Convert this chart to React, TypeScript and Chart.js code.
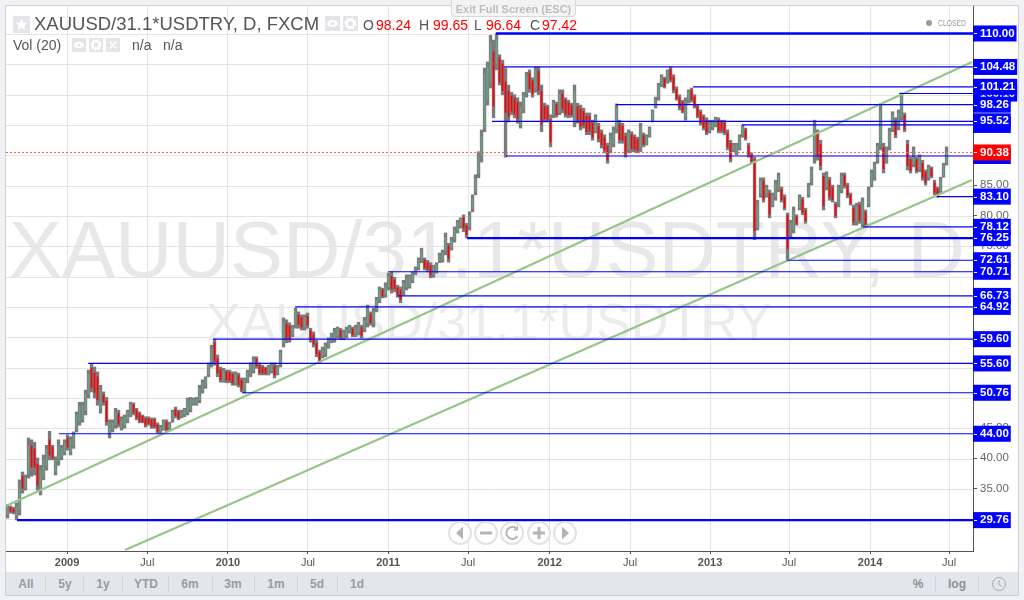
import React, { useEffect, useRef } from "react";
import { Chart, registerables } from "chart.js";

Chart.register(...registerables);

// Candles, one per ~6.8 days
const firstDate = 2008.6295;
const dateStep = 0.01868;

const highs = [
32.3,32.1,31.9,32.6,36.4,37.7,37.2,43.3,43.0,42.6,40.0,38.8,40.5,42.1,44.4,42.1,40.2,43.0,42.1,43.0,
43.8,43.5,44.3,47.6,49.2,49.2,51.2,54.5,55.6,55.0,54.2,52.0,50.9,50.0,46.3,46.3,48.2,47.9,46.8,47.1,
47.9,49.2,49.1,48.2,47.6,47.1,46.8,46.8,46.6,46.6,45.8,45.4,46.3,46.3,45.9,47.9,48.4,47.9,47.9,48.2,
49.9,50.0,49.9,50.0,52.0,52.9,53.4,55.7,58.6,59.6,57.0,55.0,54.8,54.5,54.5,54.2,54.2,54.0,53.2,53.2,
54.5,55.7,56.7,56.7,55.7,55.3,55.0,55.3,55.7,55.7,55.3,57.8,63.1,62.8,62.3,61.9,64.7,64.1,63.6,63.6,
63.9,61.4,60.8,59.4,57.8,58.3,59.0,59.8,60.6,61.4,61.6,61.4,61.1,61.6,61.9,61.6,61.9,62.4,61.9,63.2,
65.2,64.1,64.7,66.5,68.2,68.0,68.9,70.5,70.7,69.8,68.5,68.2,69.3,70.2,70.2,70.7,71.5,73.0,74.6,73.0,
72.6,72.2,71.8,72.2,73.8,74.3,77.1,75.4,76.4,78.1,79.2,79.6,80.1,78.7,80.6,83.4,86.7,90.5,94.1,104.3,
105.3,109.7,108.9,110.0,106.5,105.6,104.3,101.5,100.3,99.9,99.4,98.7,100.3,103.6,104.0,102.7,104.5,104.5,101.5,98.5,
98.2,96.6,99.0,98.7,100.7,100.7,99.4,99.0,98.5,101.5,98.5,98.2,97.7,96.9,96.9,95.7,96.6,95.2,94.1,93.3,
91.9,93.6,94.6,98.4,95.7,95.2,93.6,94.1,93.8,93.3,92.9,95.2,93.6,93.3,94.6,97.4,99.5,101.8,103.2,102.8,
104.0,104.5,103.2,101.2,99.9,99.0,99.4,100.7,101.0,99.9,98.2,97.4,96.6,96.1,95.7,95.7,96.2,96.1,95.7,95.7,
94.1,92.4,91.9,91.9,93.3,94.9,94.4,91.9,90.3,89.6,82.5,86.2,86.2,85.0,84.2,83.7,85.8,87.0,84.7,83.4,
80.4,79.2,81.4,80.1,83.4,83.0,81.2,85.3,88.0,95.7,94.1,92.4,87.0,87.2,86.3,85.0,82.2,85.0,87.0,87.0,
85.3,83.7,81.7,82.0,82.2,82.9,80.9,84.7,87.5,88.8,91.9,98.4,91.9,91.3,94.4,97.1,96.1,97.4,100.2,96.9,
92.4,89.6,91.3,89.6,90.0,89.1,87.5,88.3,88.0,85.8,84.7,86.3,88.6,91.3,
];

const lows = [
30.1,30.9,30.8,29.8,30.6,34.2,34.7,36.7,37.0,37.2,34.7,33.9,36.4,38.0,39.7,39.7,37.2,38.8,39.7,40.5,
41.3,40.5,41.6,44.3,45.4,45.9,47.1,49.9,50.9,49.9,48.7,47.4,48.7,45.4,43.3,44.3,44.9,45.1,44.6,44.9,
45.8,46.8,47.1,46.3,45.8,45.8,45.1,45.4,44.9,44.9,44.1,44.1,44.6,44.3,44.6,45.9,46.6,46.3,46.6,46.8,
47.1,47.6,48.7,48.7,49.1,50.7,51.5,53.4,55.0,55.3,53.4,52.5,52.5,52.4,52.4,52.0,52.0,51.7,50.9,50.7,
52.4,53.4,54.0,54.8,53.7,53.7,53.7,53.7,54.0,53.2,53.7,55.0,58.3,59.0,59.1,60.0,61.4,61.4,61.1,61.1,
61.4,59.1,58.3,56.7,55.7,56.5,56.7,58.1,59.0,59.1,59.8,59.5,59.5,59.8,60.6,60.0,60.0,60.3,59.8,60.8,
61.6,61.9,61.6,64.1,65.6,66.4,66.5,67.7,67.2,67.4,66.5,65.6,66.9,67.7,68.0,68.9,70.2,71.0,72.2,71.0,
70.7,69.7,69.8,70.5,72.2,72.3,73.5,72.3,74.3,75.6,77.1,77.9,77.3,76.3,77.6,80.6,83.4,86.2,88.8,93.8,
98.2,101.0,96.1,104.0,101.5,99.9,89.6,95.4,96.6,96.1,95.2,94.4,96.9,99.5,100.3,99.5,100.3,99.9,93.8,95.4,
95.4,91.3,96.1,96.2,96.6,96.9,96.2,96.1,96.2,94.6,95.2,94.1,94.4,93.3,93.3,92.4,93.6,92.1,91.1,90.3,
88.6,90.3,91.3,93.6,91.9,91.9,89.6,90.3,90.5,90.5,90.3,90.5,91.3,91.6,92.9,95.4,97.7,99.0,101.2,101.0,
101.8,102.0,100.2,99.0,97.4,96.9,95.7,98.5,98.7,97.7,96.1,94.9,94.1,93.3,93.6,94.1,94.6,93.6,93.6,93.3,
90.8,88.8,90.5,90.0,90.8,92.9,92.4,89.6,88.6,76.0,77.6,83.0,82.2,83.0,79.6,81.4,82.5,83.9,82.2,80.9,
72.6,76.3,77.1,78.4,80.9,80.1,78.7,83.0,85.0,88.6,89.1,87.5,80.9,84.2,82.5,82.2,79.6,81.4,83.7,84.5,
82.9,81.7,78.4,78.4,78.7,77.9,78.1,81.4,84.7,85.8,88.6,90.8,87.0,88.6,90.8,93.8,92.8,94.1,95.7,93.8,
87.5,87.0,88.0,87.0,87.2,85.8,85.0,85.8,86.2,83.4,83.0,83.7,86.3,88.3,
];

const opens = [
30.7,31.8,31.6,30.6,31.5,37.0,35.2,37.5,42.0,41.5,39.0,34.8,37.0,38.6,43.0,41.8,37.8,39.5,40.2,41.0,
43.2,41.0,42.0,44.8,46.0,46.4,47.8,50.6,54.8,54.0,53.4,48.2,50.4,49.4,44.0,44.8,45.5,47.3,45.0,45.3,
46.2,47.2,48.8,47.9,47.3,46.9,46.5,46.5,46.3,46.3,45.5,44.4,44.9,45.9,44.9,46.3,48.0,47.6,46.9,47.1,
47.6,48.0,49.0,49.0,49.6,51.1,51.9,53.8,55.6,59.0,56.4,54.6,52.9,54.2,54.1,53.8,52.4,53.6,52.8,51.2,
52.8,53.8,54.5,56.3,55.3,55.0,54.8,54.0,54.3,55.2,54.0,55.5,59.0,62.1,61.8,60.4,62.0,63.6,63.1,61.6,
63.4,61.0,60.3,58.9,57.4,56.9,57.2,58.4,59.3,59.6,60.2,61.0,59.8,60.2,60.9,61.3,60.4,60.7,61.5,61.3,
62.3,63.7,62.2,64.6,66.1,67.7,67.0,68.2,70.0,69.3,68.1,67.7,67.4,68.2,68.4,69.3,70.5,71.4,72.7,72.6,
72.2,71.7,70.2,70.8,72.5,72.7,74.2,75.0,74.7,76.1,77.5,78.2,79.6,78.3,78.2,81.2,84.0,87.0,89.8,94.5,
99.0,102.0,107.0,105.0,106.0,105.0,102.0,100.5,99.7,99.3,98.7,95.0,97.4,100.1,103.4,102.2,100.9,103.8,100.5,98.0,
97.8,95.8,96.6,98.3,97.2,100.0,99.0,98.6,98.1,95.6,98.0,97.6,97.2,96.4,96.3,95.2,94.0,94.7,93.6,92.8,
91.4,90.8,91.8,94.3,95.1,94.7,93.0,90.9,93.3,92.9,92.5,91.2,93.2,91.9,93.2,95.7,98.0,99.4,101.5,102.5,
102.1,104.1,102.8,100.8,99.5,98.7,96.3,98.9,100.6,99.5,97.9,97.0,96.2,95.7,93.9,94.4,94.9,95.7,95.3,95.3,
93.6,91.9,90.8,90.3,91.2,93.2,94.1,91.5,90.0,89.2,78.0,83.5,85.7,83.4,83.6,81.8,83.0,84.4,84.3,83.0,
80.0,76.8,77.7,79.8,81.3,82.6,80.8,83.4,85.5,89.5,93.4,91.7,86.4,84.7,85.8,84.6,81.8,81.9,84.2,86.6,
84.9,83.4,81.2,78.9,81.7,78.6,80.5,81.9,85.1,86.3,89.1,91.8,91.2,88.9,91.3,94.3,95.6,94.6,96.3,96.5,
91.7,89.2,88.5,89.2,87.6,88.6,87.1,86.2,87.7,85.4,84.4,84.1,86.6,88.7,
];

const closes = [
31.8,31.2,31.1,31.9,35.5,35.0,36.8,42.0,38.5,38.5,35.5,38.0,39.8,41.5,40.5,40.0,39.6,42.2,41.6,42.5,
41.8,43.0,44.0,47.2,48.6,48.6,50.6,53.8,51.6,50.8,49.6,51.2,49.2,46.0,45.8,45.8,47.6,45.6,46.4,46.7,
47.5,48.8,47.5,46.6,46.1,46.0,45.4,45.7,45.2,45.2,44.4,45.1,46.0,44.7,45.6,47.5,47.0,46.6,47.6,47.9,
49.4,49.6,49.6,49.7,51.4,52.5,53.0,55.3,58.0,56.0,54.0,52.9,54.4,52.8,52.8,52.4,53.8,52.1,51.3,52.8,
54.1,55.3,56.2,55.2,54.1,54.0,54.0,55.0,55.3,53.7,55.0,57.3,62.4,59.7,59.7,61.5,64.2,62.0,61.6,63.1,
61.9,59.5,58.8,57.2,56.1,57.9,58.6,59.5,60.3,60.9,61.2,59.9,60.8,61.2,61.6,60.3,61.5,62.0,60.2,62.7,
64.5,62.3,64.1,66.0,67.7,66.7,68.4,70.0,67.9,67.9,66.9,66.1,68.8,69.7,69.8,70.3,71.2,72.6,74.1,71.4,
71.1,70.2,71.4,71.9,73.5,73.9,76.4,72.9,76.0,77.6,78.8,79.3,77.9,76.8,80.0,82.8,86.1,89.7,93.0,103.3,
104.5,108.5,98.0,109.0,102.0,100.6,97.0,96.3,97.2,96.7,95.9,98.0,99.8,103.0,100.9,100.0,103.9,100.6,95.0,95.9,
95.8,92.1,98.5,96.6,100.1,97.5,96.7,96.6,96.6,100.5,95.7,94.7,94.9,93.8,93.9,92.9,96.1,92.6,91.6,90.8,
89.1,93.1,94.1,97.6,92.5,92.4,90.2,93.5,91.0,90.9,90.7,94.5,91.7,93.0,94.3,97.1,99.2,101.4,102.9,101.3,
103.7,102.4,100.7,99.3,97.8,97.2,98.8,100.3,99.1,98.0,96.4,95.3,94.5,93.7,95.3,95.4,95.9,94.0,94.0,93.7,
91.3,89.3,91.6,91.6,92.9,94.6,92.7,90.0,88.9,77.5,82.0,85.7,82.7,84.6,80.2,83.3,85.3,86.5,82.6,81.3,
74.5,78.7,80.8,78.7,83.0,80.5,79.1,84.9,87.5,94.8,89.8,88.2,81.6,86.7,83.0,82.6,80.0,84.5,86.5,84.9,
83.3,82.0,78.9,81.5,79.2,82.2,78.5,84.2,87.1,88.3,91.4,97.3,87.7,90.9,93.9,96.6,93.3,96.9,99.65,94.2,
88.2,87.4,90.8,87.4,89.6,86.3,85.4,87.9,86.5,83.8,83.3,85.9,88.2,90.38,
];

// Horizontal levels the author drew: price and the date each one starts at
const levelPrices = [110, 104.48, 101.21, 100.1, 98.26, 95.52, 94.92, 89.8, 83.1, 78.12, 76.25, 72.61, 70.71, 66.73, 64.92, 59.6, 55.6, 50.76, 44, 29.76];
const levelStarts = [2011.671, 2011.721, 2012.898, 2014.181, 2012.418, 2011.646, 2013.203, 2011.733, 2014.417, 2013.956, 2011.491, 2013.483, 2010.999, 2011.061, 2010.42, 2009.909, 2009.131, 2010.09, 2008.95, 2008.689];
const thickLevels = [110, 76.25, 29.76];
const lastPrice = 90.38;

// Trend channel: [date, price] ends
const upperTrendDates = [2008.62, 2014.635];
const upperTrendPrices = [32.09, 105.3];
const lowerTrendDates = [2009.361, 2014.635];
const lowerTrendPrices = [24.84, 85.85];

// Axis ticks
const xTickValues = [2009, 2009.5, 2010.002, 2010.5, 2010.999, 2011.497, 2012.005, 2012.506, 2013.004, 2013.496, 2014, 2014.492];
const xTickLabels = ["2009", "Jul", "2010", "Jul", "2011", "Jul", "2012", "Jul", "2013", "Jul", "2014", "Jul"];
const greyTicks = [85, 80, 75, 45, 40, 35];
const hiddenTicks = [100.1, 94.92, 89.8];
const boxTicks = [110, 104.48, 101.21, 98.26, 95.52, 90.38, 83.1, 78.12, 76.25, 72.61, 70.71, 66.73, 64.92, 59.6, 55.6, 50.76, 44, 29.76];
const gridTicks = [30, 35, 40, 45, 50, 55, 60, 65, 70, 75, 80, 85, 90, 95, 100, 105, 110];

const xMin = 2008.62;
const xMax = 2014.641;
const yMin = 24.67;
const yMax = 114.53;
const gridShift = 0.165;

const FONT = '"Liberation Sans", Arial, sans-serif';
const BLUE = "#0000ff";

const rangeButtons: [string, number][] = [["All", 26], ["5y", 65], ["1y", 103], ["YTD", 146], ["6m", 190], ["3m", 233], ["1m", 276], ["5d", 317], ["1d", 357]];
const rangeSeps = [45, 83, 122, 168, 212, 254, 297, 337, 935, 978];

const abs = (left: number, top: number, extra: React.CSSProperties = {}): React.CSSProperties => ({ position: "absolute", left, top, ...extra });

function IconBox({ left, top, size, kind }: { left: number; top: number; size: number; kind: string }) {
  return (
    <div style={abs(left, top, { width: size, height: size, background: "#e3e5e8" })}>
      <svg width={size} height={size} viewBox="0 0 14 14">
        {kind === "star" && <path d="M7 2l1.5 3.3 3.5.4-2.6 2.3.8 3.5L7 9.7 3.8 11.5l.8-3.5L2 5.700l3.500-.4z" fill="#fff" />}
        {kind === "eye" && (<g><ellipse cx="7" cy="7" rx="5" ry="3.300" fill="#fff" /><circle cx="7" cy="7" r="1.600" fill="#e3e5e8" /></g>)}
        {kind === "gear" && (<g><circle cx="7" cy="7" r="3.600" fill="none" stroke="#fff" strokeWidth="2.400" /><circle cx="7" cy="7" r="5" fill="none" stroke="#fff" strokeWidth="1.400" strokeDasharray="1.800 2.100" /></g>)}
        {kind === "x" && <path d="M3.500 3.500l7 7M10.500 3.500l-7 7" stroke="#fff" strokeWidth="1.600" />}
      </svg>
    </div>
  );
}

function NavButton({ cx, kind }: { cx: number; kind: string }) {
  return (
    <div style={abs(cx - 12, 521, { width: 24, height: 24, borderRadius: 12, background: "#fff", border: "2px solid #e2e2e2", boxSizing: "border-box" })}>
      <svg width={20} height={20} viewBox="0 0 20 20">
        {kind === "left" && <path d="M13 3.500v13L6 10z" fill="#b4b4b4" />}
        {kind === "right" && <path d="M7 3.500v13L14 10z" fill="#b4b4b4" />}
        {kind === "minus" && <path d="M4 8.500h12v3H4z" fill="#b4b4b4" />}
        {kind === "plus" && <path d="M8.500 4h3v4.500H16v3h-4.500V16h-3v-4.500H4v-3h4.500z" fill="#b4b4b4" />}
        {kind === "reset" && <path d="M14.500 5.500A6 6 0 1 0 15.500 13" fill="none" stroke="#b4b4b4" strokeWidth="2" />}
        {kind === "reset" && <path d="M16 2.500v5h-5z" fill="#b4b4b4" />}
      </svg>
    </div>
  );
}

export default function App() {
  const ref = useRef<HTMLCanvasElement | null>(null);

  useEffect(() => {
    if (!ref.current) return;
    const dates = closes.map((_, i) => firstDate + i * dateStep);
    const wickData = dates.map((x, i) => ({ x, y: [lows[i], highs[i]] }));
    const bodyData = dates.map((x, i) => ({ x, y: [opens[i], closes[i]] }));
    const bodyColors = closes.map((c, i) => (c < opens[i] ? "#ff0000" : "#6f9f86"));

    const levelSets = levelPrices.map((p, i) => ({
      type: "line" as const,
      data: [{ x: levelStarts[i], y: p }, { x: xMax, y: p }],
      borderColor: BLUE,
      borderWidth: thickLevels.includes(p) ? 2.4 : 1.2,
      pointRadius: 0,
      order: 0,
    }));

    const trendSet = (xs: number[], ys: number[]) => ({
      type: "line" as const,
      data: xs.map((x, i) => ({ x, y: ys[i] })),
      borderColor: "#97c587",
      borderWidth: 2.2,
      pointRadius: 0,
      order: 0,
    });

    const tickMarks = {
      id: "boxTickMarks",
      afterDatasetsDraw(chart: any) {
        const { ctx } = chart;
        const y = chart.scales.y;
        ctx.save();
        ctx.fillStyle = "#ffffff";
        boxTicks.forEach((v) => {
          const py = Math.round(y.getPixelForValue(v));
          ctx.fillRect(974, py, 3, 1);
        });
        ctx.restore();
      },
    };

    const chart = new Chart(ref.current, {
      type: "bar",
      data: {
        datasets: [
          { type: "bar", data: wickData as any, backgroundColor: "#7a7b7d", barThickness: 2.7, grouped: false, order: 3 },
          { type: "bar", data: bodyData as any, backgroundColor: bodyColors, barThickness: 1, grouped: false, order: 2 },
          {
            type: "line",
            data: [{ x: xMin, y: lastPrice }, { x: xMax, y: lastPrice }],
            borderColor: "#ff5a5a",
            borderWidth: 1,
            borderDash: [2, 2],
            pointRadius: 0,
            order: 1,
          },
          ...levelSets,
          trendSet(upperTrendDates, upperTrendPrices),
          trendSet(lowerTrendDates, lowerTrendPrices),
        ] as any,
      },
      plugins: [tickMarks],
      options: {
        animation: false,
        responsive: false,
        maintainAspectRatio: false,
        layout: { padding: { left: 6, top: 6, right: 0, bottom: 0 } },
        plugins: { legend: { display: false }, tooltip: { enabled: false } },
        events: [],
        scales: {
          x: {
            type: "linear",
            min: xMin,
            max: xMax,
            offset: false,
            afterFit: (s: any) => { s.height = 49; s.paddingLeft = 0; s.paddingRight = 0; },
            afterBuildTicks: (s: any) => { s.ticks = xTickValues.map((value) => ({ value })); },
            grid: { offset: false, color: "#e4e4e4", lineWidth: 1, tickColor: "#555555", tickLength: 3 },
            border: { color: "#555555", width: 1 },
            ticks: {
              autoSkip: false,
              maxRotation: 0,
              minRotation: 0,
              padding: 2,
              color: "#555555",
              callback: (_v: any, i: number) => xTickLabels[i],
              font: (c: any) => ({ family: FONT, size: 11, weight: c.index % 2 === 0 ? "bold" : "normal" }),
            },
          },
          y: {
            type: "linear",
            position: "right",
            min: yMin,
            max: yMax,
            afterFit: (s: any) => { s.width = 51; s.paddingTop = 0; s.paddingBottom = 0; },
            afterBuildTicks: (s: any) => {
              s.ticks = [...greyTicks, ...hiddenTicks, ...boxTicks].map((value) => ({ value }));
            },
            grid: { drawOnChartArea: false, drawTicks: true, tickLength: 4, tickColor: "#555555" },
            border: { color: "#555555", width: 1 },
            ticks: {
              autoSkip: false,
              padding: 3,
              callback: (v: any) => Number(v).toFixed(2),
              color: (c: any) => (c.tick && greyTicks.includes(c.tick.value) ? "#666666" : "#ffffff"),
              font: (c: any) => ({ family: FONT, size: 11.5, weight: c.tick && greyTicks.includes(c.tick.value) ? "normal" : "bold" }),
              showLabelBackdrop: (c: any) => !(c.tick && greyTicks.includes(c.tick.value)),
              backdropColor: (c: any) => (c.tick && c.tick.value === lastPrice ? "#ff0000" : BLUE),
              backdropPadding: { left: 7, right: 2, top: 1.100, bottom: 1.100 },
            } as any,
          },
          yGrid: {
            type: "linear",
            axis: "y",
            position: "left",
            min: yMin + gridShift,
            max: yMax + gridShift,
            afterFit: (s: any) => { s.width = 0; s.paddingTop = 0; s.paddingBottom = 0; },
            afterBuildTicks: (s: any) => { s.ticks = gridTicks.map((value) => ({ value })); },
            grid: { color: "#e4e4e4", lineWidth: 1, drawTicks: false },
            border: { display: false },
            ticks: { display: false, autoSkip: false },
          } as any,
        },
      },
    });
    return () => chart.destroy();
  }, []);

  return (
    <div style={{ position: "fixed", left: 0, top: 0, width: 1024, height: 600, overflow: "hidden", background: "#f0f2f6", fontFamily: FONT }}>
      {/* frame and chart background */}
      <div style={abs(5, 5, { width: 1014, height: 591, background: "#ffffff", border: "1px solid #cfcfcf", boxSizing: "border-box" })} />
      {/* watermarks sit under the transparent canvas */}
      <div style={abs(9, 205, { fontSize: 79.500, lineHeight: "90px", color: "#e8e8e8", whiteSpace: "nowrap" })}>XAUUSD/31.1*USDTRY, D</div>
      <div style={abs(206, 292, { fontSize: 52, lineHeight: "60px", color: "#ececec", whiteSpace: "nowrap" })}>XAUUSD/31.1*USDTRY</div>
      <canvas ref={ref} width={1024} height={600} style={{ position: "absolute", left: 0, top: 0, display: "block" }} />

      {/* legend header */}
      <IconBox left={13} top={16} size={17} kind="star" />
      <div style={abs(34, 13, { fontSize: 18.500, lineHeight: "22px", color: "#555", whiteSpace: "nowrap" })}>XAUUSD/31.1*USDTRY, D, FXCM</div>
      <IconBox left={325} top={16} size={15} kind="eye" />
      <IconBox left={343} top={16} size={15} kind="gear" />
      <div style={abs(363, 17, { fontSize: 14, lineHeight: "16px", color: "#555", whiteSpace: "nowrap" })}>O</div>
      <div style={abs(376, 17, { fontSize: 14, lineHeight: "16px", color: "#ff0000", whiteSpace: "nowrap" })}>98.24</div>
      <div style={abs(419, 17, { fontSize: 14, lineHeight: "16px", color: "#555", whiteSpace: "nowrap" })}>H</div>
      <div style={abs(433, 17, { fontSize: 14, lineHeight: "16px", color: "#ff0000", whiteSpace: "nowrap" })}>99.65</div>
      <div style={abs(474, 17, { fontSize: 14, lineHeight: "16px", color: "#555", whiteSpace: "nowrap" })}>L</div>
      <div style={abs(486, 17, { fontSize: 14, lineHeight: "16px", color: "#ff0000", whiteSpace: "nowrap" })}>96.64</div>
      <div style={abs(530, 17, { fontSize: 14, lineHeight: "16px", color: "#555", whiteSpace: "nowrap" })}>C</div>
      <div style={abs(542, 17, { fontSize: 14, lineHeight: "16px", color: "#ff0000", whiteSpace: "nowrap" })}>97.42</div>

      <div style={abs(13, 37, { fontSize: 14, lineHeight: "16px", color: "#555", whiteSpace: "nowrap" })}>Vol (20)</div>
      <IconBox left={72} top={38} size={14} kind="eye" />
      <IconBox left={89} top={38} size={14} kind="gear" />
      <IconBox left={106} top={38} size={14} kind="x" />
      <div style={abs(132, 37, { fontSize: 14, lineHeight: "16px", color: "#555", whiteSpace: "nowrap" })}>n/a</div>
      <div style={abs(163, 37, { fontSize: 14, lineHeight: "16px", color: "#555", whiteSpace: "nowrap" })}>n/a</div>

      {/* exit tab */}
      <div style={abs(451, -1, { width: 125, height: 18, background: "rgba(243,243,243,0.92)", border: "1px solid #d8d8d8", borderRadius: "0 0 4px 4px", boxSizing: "border-box", textAlign: "center", fontSize: 11, fontWeight: "bold", lineHeight: "19px", color: "#bdbdbd", whiteSpace: "nowrap" })}>Exit Full Screen (ESC)</div>

      {/* market state */}
      <div style={abs(926, 20, { width: 6, height: 6, borderRadius: 3, background: "#999" })} />
      <div style={abs(938, 18, { fontSize: 8.500, lineHeight: "10px", color: "#999", whiteSpace: "nowrap", transform: "scaleX(0.8)", transformOrigin: "left center" })}>CLOSED</div>

      {/* scroll and zoom buttons */}
      <NavButton cx={460} kind="left" />
      <NavButton cx={486} kind="minus" />
      <NavButton cx={512} kind="reset" />
      <NavButton cx={539} kind="plus" />
      <NavButton cx={565} kind="right" />

      {/* bottom toolbar */}
      <div style={abs(6, 572, { width: 1012, height: 23, background: "#e3e6eb" })} />
      {rangeSeps.map((x) => (
        <div key={x} style={abs(x, 575, { width: 1, height: 17, background: "#d2d5da" })} />
      ))}
      {rangeButtons.map(([label, cx]) => (
        <div key={label} style={abs(cx - 20, 576, { width: 40, textAlign: "center", fontSize: 12, lineHeight: "16px", fontWeight: "bold", color: "#9a9ca0" })}>{label}</div>
      ))}
      <div style={abs(898, 576, { width: 40, textAlign: "center", fontSize: 12, lineHeight: "16px", fontWeight: "bold", color: "#8f9195" })}>%</div>
      <div style={abs(937, 576, { width: 40, textAlign: "center", fontSize: 12, lineHeight: "16px", fontWeight: "bold", color: "#8f9195" })}>log</div>
      <svg style={abs(991, 576)} width={16} height={16} viewBox="0 0 16 16">
        <circle cx="8" cy="8" r="6.500" fill="none" stroke="#a8aaae" strokeWidth="1" />
        <path d="M8 4v4.500l2.500 1.500" fill="none" stroke="#a8aaae" strokeWidth="1" />
      </svg>
    </div>
  );
}
